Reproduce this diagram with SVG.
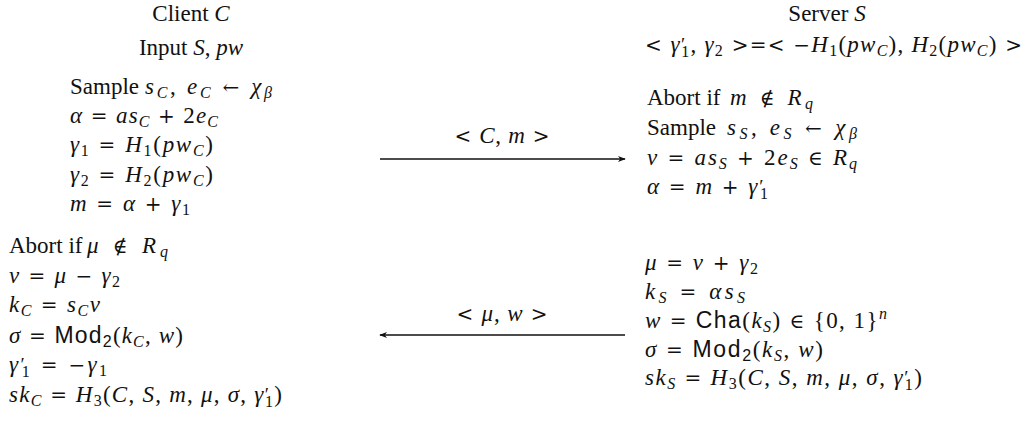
<svg xmlns="http://www.w3.org/2000/svg" width="1027" height="421" viewBox="0 0 1027 421">
<defs>
<style>
text{font-family:"Liberation Serif","DejaVu Serif",serif;font-size:23px;fill:#111}
.i{font-style:italic}
.b{font-size:16px}
.p{font-size:19px}
.o{font-family:"DejaVu Serif",serif;font-size:20px}
.sf{font-family:"Liberation Sans","DejaVu Sans",sans-serif}
.mid{text-anchor:middle}
.conn{stroke:#111;stroke-width:1.3;fill:none}
</style>
<marker id="ah" viewBox="0 0 10 10" refX="9" refY="5" markerWidth="8" markerHeight="8" markerUnits="userSpaceOnUse" orient="auto-start-reverse">
<path d="M0,1 L10,5 L0,9 L3,5 Z" fill="#111"/>
</marker>
</defs>
<rect width="1027" height="421" fill="#fff"/>

<g id="client">
<text class="mid" x="191" y="21">Client <tspan class="i">C</tspan></text>
<text class="mid" x="191" y="55">Input <tspan class="i">S</tspan>, <tspan class="i">pw</tspan></text>
<text x="70" y="94">Sample</text>
<text x="145" y="94" textLength="127" lengthAdjust="spacing"><tspan class="i">s</tspan><tspan class="i b" dy="4">C</tspan><tspan dy="-4">, </tspan><tspan class="i">e</tspan><tspan class="i b" dy="4">C</tspan><tspan class="o" dy="-4"> ← </tspan><tspan class="i">χ</tspan><tspan class="i b" dy="4">β</tspan></text>
<text x="70" y="123" textLength="148" lengthAdjust="spacing"><tspan class="i">α</tspan><tspan class="o"> = </tspan><tspan class="i">as</tspan><tspan class="i b" dy="4">C</tspan><tspan class="o" dy="-4"> + </tspan>2<tspan class="i">e</tspan><tspan class="i b" dy="4">C</tspan></text>
<text x="70" y="152" textLength="143" lengthAdjust="spacing"><tspan class="i">γ</tspan><tspan class="b" dy="4">1</tspan><tspan class="o" dy="-4"> = </tspan><tspan class="i">H</tspan><tspan class="b" dy="4">1</tspan><tspan dy="-4">(</tspan><tspan class="i">pw</tspan><tspan class="i b" dy="4">C</tspan><tspan dy="-4">)</tspan></text>
<text x="70" y="182" textLength="143" lengthAdjust="spacing"><tspan class="i">γ</tspan><tspan class="b" dy="4">2</tspan><tspan class="o" dy="-4"> = </tspan><tspan class="i">H</tspan><tspan class="b" dy="4">2</tspan><tspan dy="-4">(</tspan><tspan class="i">pw</tspan><tspan class="i b" dy="4">C</tspan><tspan dy="-4">)</tspan></text>
<text x="70" y="211" textLength="120" lengthAdjust="spacing"><tspan class="i">m</tspan><tspan class="o"> = </tspan><tspan class="i">α</tspan><tspan class="o"> + </tspan><tspan class="i">γ</tspan><tspan class="b" dy="4">1</tspan></text>
<text x="9" y="253">Abort if</text>
<text x="87" y="253" textLength="81" lengthAdjust="spacing"><tspan class="i">μ</tspan><tspan class="o"> ∉ </tspan><tspan class="i">R</tspan><tspan class="i b" dy="4">q</tspan></text>
<text x="9" y="283" textLength="111" lengthAdjust="spacing"><tspan class="i">ν</tspan><tspan class="o"> = </tspan><tspan class="i">μ</tspan><tspan class="o"> − </tspan><tspan class="i">γ</tspan><tspan class="b" dy="4">2</tspan></text>
<text x="9" y="312" textLength="91" lengthAdjust="spacing"><tspan class="i">k</tspan><tspan class="i b" dy="4">C</tspan><tspan class="o" dy="-4"> = </tspan><tspan class="i">s</tspan><tspan class="i b" dy="4">C</tspan><tspan class="i" dy="-4">ν</tspan></text>
<text x="9" y="343" textLength="174" lengthAdjust="spacing"><tspan class="i">σ</tspan><tspan class="o"> = </tspan><tspan class="sf">Mod</tspan><tspan class="sf b" dy="4">2</tspan><tspan dy="-4">(</tspan><tspan class="i">k</tspan><tspan class="i b" dy="4">C</tspan><tspan dy="-4">, </tspan><tspan class="i">w</tspan>)</text>
<text x="9" y="372" textLength="98" lengthAdjust="spacing"><tspan class="i">γ</tspan><tspan class="p" dy="-1">′</tspan><tspan class="b" dx="-5" dy="6">1</tspan><tspan class="o" dy="-5"> = −</tspan><tspan class="i">γ</tspan><tspan class="b" dy="4">1</tspan></text>
<text x="9" y="402" textLength="273" lengthAdjust="spacing"><tspan class="i">sk</tspan><tspan class="i b" dy="4">C</tspan><tspan class="o" dy="-4"> = </tspan><tspan class="i">H</tspan><tspan class="b" dy="4">3</tspan><tspan dy="-4">(</tspan><tspan class="i">C</tspan>, <tspan class="i">S</tspan>, <tspan class="i">m</tspan>, <tspan class="i">μ</tspan>, <tspan class="i">σ</tspan>, <tspan class="i">γ</tspan><tspan class="p" dy="-1">′</tspan><tspan class="b" dx="-5" dy="6">1</tspan><tspan dy="-5">)</tspan></text>
</g>

<g id="server">
<text class="mid" x="827" y="21">Server <tspan class="i">S</tspan></text>
<text x="645" y="52" textLength="377" lengthAdjust="spacing"><tspan class="o">&lt; </tspan><tspan class="i">γ</tspan><tspan class="p" dy="-1">′</tspan><tspan class="b" dx="-5" dy="6">1</tspan><tspan dy="-5">, </tspan><tspan class="i">γ</tspan><tspan class="b" dy="4">2</tspan><tspan class="o" dy="-4"> &gt;=&lt; −</tspan><tspan class="i">H</tspan><tspan class="b" dy="4">1</tspan><tspan dy="-4">(</tspan><tspan class="i">pw</tspan><tspan class="i b" dy="4">C</tspan><tspan dy="-4">), </tspan><tspan class="i">H</tspan><tspan class="b" dy="4">2</tspan><tspan dy="-4">(</tspan><tspan class="i">pw</tspan><tspan class="i b" dy="4">C</tspan><tspan dy="-4">)</tspan><tspan class="o"> &gt;</tspan></text>
<text x="647" y="105">Abort if</text>
<text x="730" y="105" textLength="83" lengthAdjust="spacing"><tspan class="i">m</tspan><tspan class="o"> ∉ </tspan><tspan class="i">R</tspan><tspan class="i b" dy="4">q</tspan></text>
<text x="647" y="135">Sample</text>
<text x="727" y="135" textLength="130" lengthAdjust="spacing"><tspan class="i">s</tspan><tspan class="i b" dy="4">S</tspan><tspan dy="-4">, </tspan><tspan class="i">e</tspan><tspan class="i b" dy="4">S</tspan><tspan class="o" dy="-4"> ← </tspan><tspan class="i">χ</tspan><tspan class="i b" dy="4">β</tspan></text>
<text x="647" y="165" textLength="210" lengthAdjust="spacing"><tspan class="i">ν</tspan><tspan class="o"> = </tspan><tspan class="i">as</tspan><tspan class="i b" dy="4">S</tspan><tspan class="o" dy="-4"> + </tspan>2<tspan class="i">e</tspan><tspan class="i b" dy="4">S</tspan><tspan class="o" dy="-4"> ∈ </tspan><tspan class="i">R</tspan><tspan class="i b" dy="4">q</tspan></text>
<text x="647" y="194" textLength="121" lengthAdjust="spacing"><tspan class="i">α</tspan><tspan class="o"> = </tspan><tspan class="i">m</tspan><tspan class="o"> + </tspan><tspan class="i">γ</tspan><tspan class="p" dy="-1">′</tspan><tspan class="b" dx="-5" dy="6">1</tspan></text>
<text x="645" y="270" textLength="113" lengthAdjust="spacing"><tspan class="i">μ</tspan><tspan class="o"> = </tspan><tspan class="i">ν</tspan><tspan class="o"> + </tspan><tspan class="i">γ</tspan><tspan class="b" dy="4">2</tspan></text>
<text x="645" y="299" textLength="100" lengthAdjust="spacing"><tspan class="i">k</tspan><tspan class="i b" dy="4">S</tspan><tspan class="o" dy="-4"> = </tspan><tspan class="i">αs</tspan><tspan class="i b" dy="4">S</tspan></text>
<text x="645" y="328" textLength="242" lengthAdjust="spacing"><tspan class="i">w</tspan><tspan class="o"> = </tspan><tspan class="sf">Cha</tspan>(<tspan class="i">k</tspan><tspan class="i b" dy="4">S</tspan><tspan dy="-4">)</tspan><tspan class="o"> ∈ </tspan>{0, 1}<tspan class="i b" dy="-9">n</tspan></text>
<text x="645" y="357" textLength="178" lengthAdjust="spacing"><tspan class="i">σ</tspan><tspan class="o"> = </tspan><tspan class="sf">Mod</tspan><tspan class="sf b" dy="4">2</tspan><tspan dy="-4">(</tspan><tspan class="i">k</tspan><tspan class="i b" dy="4">S</tspan><tspan dy="-4">, </tspan><tspan class="i">w</tspan>)</text>
<text x="645" y="385" textLength="277" lengthAdjust="spacing"><tspan class="i">sk</tspan><tspan class="i b" dy="4">S</tspan><tspan class="o" dy="-4"> = </tspan><tspan class="i">H</tspan><tspan class="b" dy="4">3</tspan><tspan dy="-4">(</tspan><tspan class="i">C</tspan>, <tspan class="i">S</tspan>, <tspan class="i">m</tspan>, <tspan class="i">μ</tspan>, <tspan class="i">σ</tspan>, <tspan class="i">γ</tspan><tspan class="p" dy="-1">′</tspan><tspan class="b" dx="-5" dy="6">1</tspan><tspan dy="-5">)</tspan></text>
</g>

<g id="connectors">
<line class="conn" x1="380" y1="159" x2="625" y2="159" marker-end="url(#ah)"/>
<text class="mid" x="502" y="143" textLength="95" lengthAdjust="spacing"><tspan class="o">&lt; </tspan><tspan class="i">C</tspan>, <tspan class="i">m</tspan><tspan class="o"> &gt;</tspan></text>
<line class="conn" x1="625" y1="335" x2="380" y2="335" marker-end="url(#ah)"/>
<text class="mid" x="502" y="321" textLength="91" lengthAdjust="spacing"><tspan class="o">&lt; </tspan><tspan class="i">μ</tspan>, <tspan class="i">w</tspan><tspan class="o"> &gt;</tspan></text>
</g>
</svg>
